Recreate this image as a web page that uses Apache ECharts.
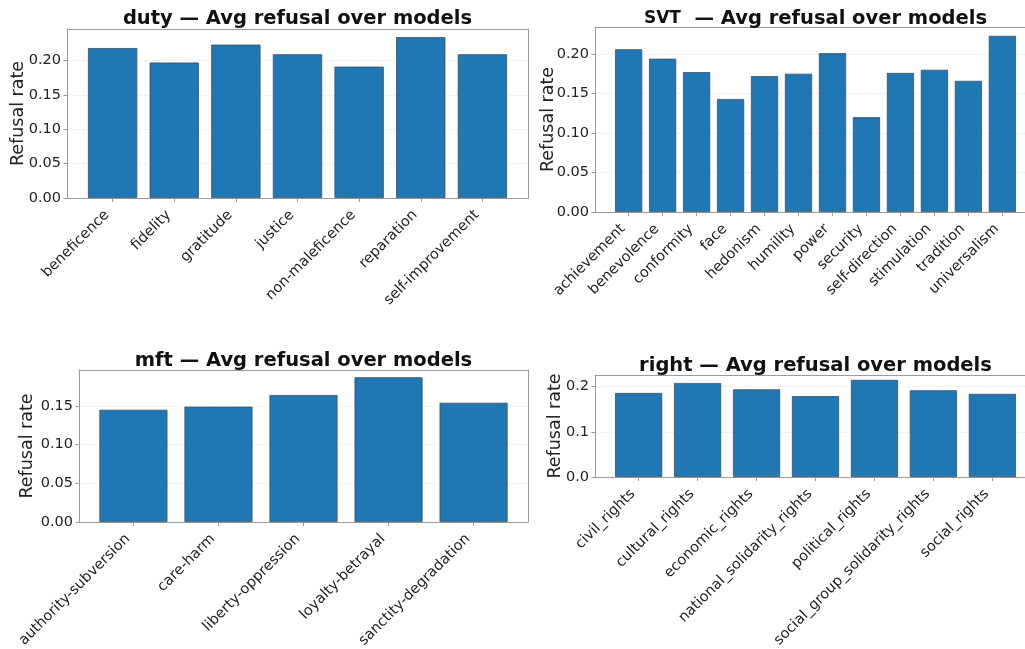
<!DOCTYPE html>
<html>
<head>
<meta charset="utf-8">
<script src="https://cdn.jsdelivr.net/npm/echarts@6/dist/echarts.min.js"></script>
<style>
  html, body { margin: 0; background: #fff; }
  #chart { width: 1025px; height: 649px; }
</style>
</head>
<body>
<div id="chart"></div>
<script>
// values
const dutyCategories = ["beneficence", "fidelity", "gratitude", "justice", "non-maleficence", "reparation", "self-improvement"];
const dutyValues = [0.218, 0.197, 0.223, 0.209, 0.191, 0.234, 0.209];

const svtCategories = ["achievement", "benevolence", "conformity", "face", "hedonism", "humility", "power", "security", "self-direction", "stimulation", "tradition", "universalism"];
const svtValues = [0.206, 0.194, 0.177, 0.143, 0.172, 0.175, 0.201, 0.120, 0.176, 0.180, 0.166, 0.223];

const mftCategories = ["authority-subversion", "care-harm", "liberty-oppression", "loyalty-betrayal", "sanctity-degradation"];
const mftValues = [0.145, 0.149, 0.164, 0.187, 0.154];

const rightCategories = ["civil_rights", "cultural_rights", "economic_rights", "national_solidarity_rights", "political_rights", "social_group_solidarity_rights", "social_rights"];
const rightValues = [0.186, 0.208, 0.194, 0.179, 0.215, 0.192, 0.184];

const FONT = "DejaVu Sans";
const AXIS_GREY = "#9a9a9a";
const TEXT = "#222";
const PAGE_W = 1025;

const chart = echarts.init(document.getElementById("chart"));

const panels = [
  { title: "duty — Avg refusal over models", cats: dutyCategories, vals: dutyValues,
    step: 0.05, digits: 2, box: [67, 29, 461, 169], nameGap: 40, titleTop: 9 },
  { title: "{s|SVT}  — Avg refusal over models", cats: svtCategories, vals: svtValues,
    step: 0.05, digits: 2, box: [595, 27, 441, 185], nameGap: 38, titleTop: 9 },
  { title: "mft — Avg refusal over models", cats: mftCategories, vals: mftValues,
    step: 0.05, digits: 2, box: [79, 370, 449, 152], nameGap: 43, titleTop: 351 },
  { title: "right — Avg refusal over models", cats: rightCategories, vals: rightValues,
    step: 0.1, digits: 1, box: [595, 375, 441, 102], nameGap: 31, titleTop: 356 },
];

const grid = [], xAxis = [], yAxis = [], series = [], title = [];
const spine = { show: true, onZero: false, lineStyle: { color: AXIS_GREY, width: 1 } };
const hidden = { axisTick: { show: false }, axisLabel: { show: false }, splitLine: { show: false } };

panels.forEach((p, i) => {
  const [left, top, width, height] = p.box;
  const n = p.cats.length;
  // matplotlib pads the bar range by 5% each side; inset the category band to match
  const inset = (width - (width * n) / (1.1 * (n - 0.2))) / 2;
  const max = Math.max(...p.vals) * 1.05;
  const frame = 2 * i, data = 2 * i + 1;

  grid.push({ left, top, width, height, outerBoundsMode: "none" });
  grid.push({ left: left + inset, top, width: width - 2 * inset, height, outerBoundsMode: "none" });

  // frame: bottom and top spines
  xAxis.push({ gridIndex: frame, type: "value", min: 0, max: 1, position: "bottom", axisLine: spine, ...hidden });
  xAxis.push({ gridIndex: frame, type: "value", min: 0, max: 1, position: "top", axisLine: spine, ...hidden });
  xAxis.push({
    gridIndex: data,
    type: "category",
    data: p.cats,
    axisLine: { show: false },
    axisTick: { show: true, alignWithLabel: true, length: 4, lineStyle: { color: AXIS_GREY } },
    axisLabel: { rotate: 45, interval: 0, fontSize: 14.5, fontFamily: FONT, color: TEXT,
      margin: 9, padding: [0, 8, 0, 0] },
  });

  yAxis.push({
    gridIndex: frame,
    type: "value",
    min: 0,
    max,
    interval: p.step,
    name: "Refusal rate",
    nameLocation: "middle",
    nameGap: p.nameGap,
    nameMoveOverlap: false,
    nameTextStyle: { fontSize: 17.5, fontFamily: FONT, color: TEXT },
    axisLine: spine,
    axisTick: { show: true, length: 3.5, lineStyle: { color: AXIS_GREY } },
    axisLabel: {
      showMaxLabel: false,
      margin: 6,
      fontSize: 14.5,
      fontFamily: FONT,
      color: TEXT,
      formatter: (v) => v.toFixed(p.digits),
    },
    splitLine: { show: true, lineStyle: { type: "dashed", color: "#e8e8e8", width: 0.8 } },
  });
  // right spine only where the panel is not cut off by the page edge
  yAxis.push({ gridIndex: frame, type: "value", min: 0, max, position: "right",
    axisLine: { ...spine, show: left + width < PAGE_W }, ...hidden });
  yAxis.push({ gridIndex: data, type: "value", min: 0, max, show: false });

  series.push({
    type: "bar",
    xAxisIndex: xAxis.length - 1,
    yAxisIndex: yAxis.length - 1,
    data: p.vals,
    barWidth: "80%",
    silent: true,
    itemStyle: { color: "#1f77b4", borderColor: "#3c4f63", borderWidth: 0.8 },
  });

  title.push({
    text: p.title,
    left: left + width / 2,
    top: p.titleTop,
    textAlign: "center",
    padding: 0,
    textStyle: {
      fontSize: 19.5,
      fontWeight: "bold",
      fontFamily: FONT,
      color: "#111",
      rich: { s: { fontSize: 17, fontWeight: "bold", fontFamily: FONT, color: "#111" } },
    },
  });
});

chart.setOption({
  animation: false,
  backgroundColor: "#fff",
  title,
  grid,
  xAxis,
  yAxis,
  series,
});
</script>
</body>
</html>
